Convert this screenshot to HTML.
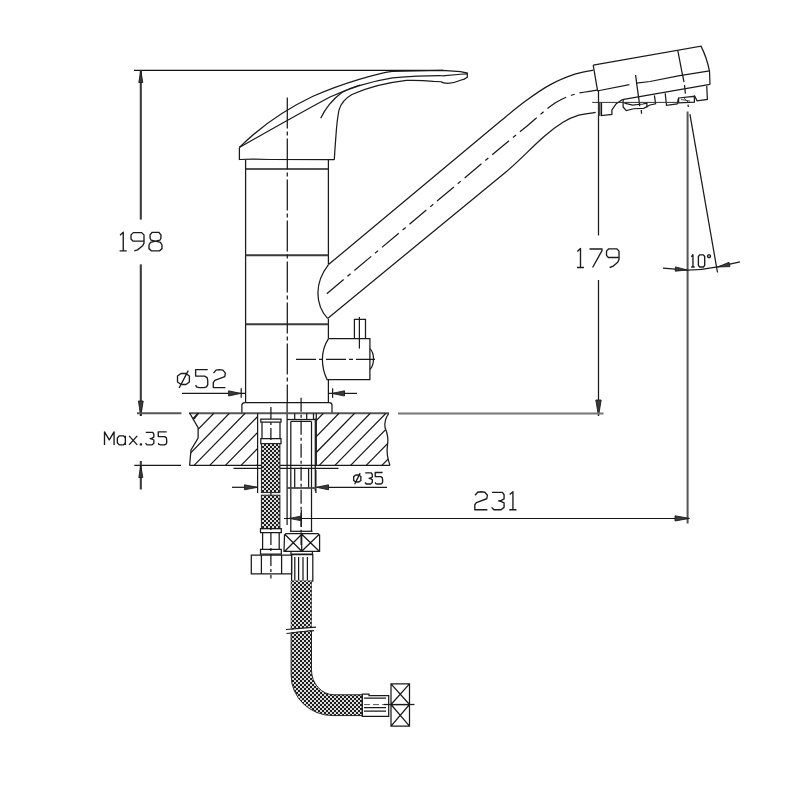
<!DOCTYPE html>
<html><head><meta charset="utf-8"><style>
html,body{margin:0;padding:0;background:#fff;}
svg{display:block;}
</style></head><body>
<svg width="800" height="794" viewBox="0 0 800 794">
<rect width="800" height="794" fill="#fff"/>
<line x1="134" y1="70.3" x2="443" y2="70.3" stroke="#111" stroke-width="1.3" />
<line x1="140.8" y1="70" x2="140.8" y2="219.6" stroke="#3a3a3a" stroke-width="2.1" fill="none" />
<line x1="140.8" y1="264.4" x2="140.8" y2="416" stroke="#3a3a3a" stroke-width="2.1" fill="none" />
<path d="M140.8,70.5 L138.8,82.5 L142.8,82.5 Z" fill="#3a3a3a" stroke="#1b1b1b" stroke-width="0.9" stroke-linejoin="round"/>
<path d="M140.8,416.0 L143.2,401.0 L138.4,401.0 Z" fill="#3a3a3a" stroke="#1b1b1b" stroke-width="0.9" stroke-linejoin="round"/>
<path transform="translate(119.60,232.30) scale(1.3000,1.0333)" d="M0.3,2.8 L2.8,0 L2.8,18 M0,18 L5.5,18" stroke="#1b1b1b" stroke-width="1.35" vector-effect="non-scaling-stroke" fill="none" stroke-linejoin="round" stroke-linecap="butt"/>
<path transform="translate(131.00,232.30) scale(1.3000,1.0333)" d="M10,8.5 L1.5,8.5 L0,6.5 L0,2.5 L1.8,0.3 L8.2,0.3 L10,2.5 L10,10.5 L9,13 L5,17 L2.5,18" stroke="#1b1b1b" stroke-width="1.35" vector-effect="non-scaling-stroke" fill="none" stroke-linejoin="round" stroke-linecap="butt"/>
<path transform="translate(149.00,232.30) scale(1.3000,1.0333)" d="M5,8.6 L1.5,7.5 L0.8,5.5 L0.8,2.5 L2.5,0 L7.5,0 L9.2,2.5 L9.2,5.5 L8.5,7.5 L5,8.6 L1.2,9.8 L0,12.3 L0,15.8 L2,18 L8,18 L10,15.8 L10,12.3 L8.8,9.8 Z" stroke="#1b1b1b" stroke-width="1.35" vector-effect="non-scaling-stroke" fill="none" stroke-linejoin="round" stroke-linecap="butt"/>
<path d="M239.4,147.4 C255,132 280,112 313,96.3 C345,82 380,73 392,71.3 L442.5,70.5 L460.5,71.6 L467.3,73.1 L467.3,77.25 L464.3,79.1 L460.5,80.25 Q455,82.8 448,83.3 Q443,83.2 441,81.75 L433.5,81.4 Q420,80 406.5,80.4 Q375,84 352,94.5 Q342,100 339,110 Q337,120 336,135 Q335,148 334.3,159.7" stroke="#1a1a1a" stroke-width="1.25" fill="none" />
<path d="M239.4,147.4 C265,133 300,113 330,97 Q360,83 392.5,77.8 Q420,75.6 442.5,75.75 L460.5,74.25 L467.3,73.9" stroke="#1a1a1a" stroke-width="1.25" fill="none" />
<path d="M320.7,118.2 Q328,103 341.8,92.5 Q350,88 360,85" stroke="#1a1a1a" stroke-width="1.25" fill="none" />
<path d="M239.4,147.4 L239.4,159.5 Q250,158.8 270,159.5 L334.3,159.7" stroke="#1a1a1a" stroke-width="1.25" fill="none" />
<path d="M245.6,159.7 L245.6,402 M328.4,159.7 L328.4,264.6 M328.4,319 L328.4,338.6 M328.4,379.5 L328.4,402" stroke="#1a1a1a" stroke-width="1.25" fill="none" />
<line x1="245.6" y1="169" x2="328.4" y2="169" stroke="#1b1b1b" stroke-width="1.6" />
<line x1="245.6" y1="255.3" x2="328.4" y2="255.3" stroke="#3a3a3a" stroke-width="2.1" fill="none" />
<line x1="245.6" y1="324.3" x2="328.4" y2="324.3" stroke="#3a3a3a" stroke-width="2.1" fill="none" />
<line x1="287.3" y1="97.5" x2="287.3" y2="402" stroke="#1a1a1a" stroke-width="1.25" fill="none" stroke-dasharray="31 3 4 3"/>
<line x1="287.1" y1="402" x2="287.1" y2="525" stroke="#1a1a1a" stroke-width="1.25" fill="none" />
<path d="M328.5,264.6 L500,121.6 C508.3,114.7 516.5,107.7 525.2,101.3 C533.3,95.3 541.5,89.4 550.4,84.6 C558.4,80.2 567.0,76.8 575.6,73.9 C581.3,72.0 587.3,71.3 593.2,70.1" stroke="#1a1a1a" stroke-width="1.25" fill="none" />
<path d="M327.6,318.4 L505,172.8 C518.7,161.5 530.7,148.2 544.1,136.5 C550.0,131.3 556.3,126.5 563.0,122.3 C567.7,119.4 572.8,117.0 578.1,115.4 C583.8,113.7 589.8,113.4 595.7,112.3" stroke="#1a1a1a" stroke-width="1.25" fill="none" />
<path d="M328.5,264.6 Q318,278 317.9,292.9 Q318,308 327.6,318.4" stroke="#1a1a1a" stroke-width="1.25" fill="none" />
<path d="M326.8,293.7 L500,148.2 C508.3,141.2 516.8,134.4 525.2,127.5 C535.3,119.3 544.6,110.0 555.4,102.8 C561.5,98.7 568.6,96.1 575.6,94.0 C582.5,91.9 589.9,91.5 597.0,90.2" stroke="#1a1a1a" stroke-width="1.25" fill="none" stroke-dasharray="22 5 4 5"/>
<path d="M593.2,65.1 L701,46.1 Q707,58 709.5,71.3 L710,84.4" stroke="#1a1a1a" stroke-width="1.25" fill="none" />
<path d="M593.2,65.1 L597.5,90.3" stroke="#1a1a1a" stroke-width="1.25" fill="none" />
<path d="M677.8,50.6 L681.8,71.3 L684,82" stroke="#1a1a1a" stroke-width="1.25" fill="none" />
<path d="M684.5,85 L685.4,93.6 M688,104.6 L688.3,107" stroke="#1a1a1a" stroke-width="1.25" fill="none" />
<path d="M597,91 L629.4,84.7" stroke="#1a1a1a" stroke-width="1.25" fill="none" />
<path d="M636.5,83.2 L650,81.5 L678.3,75.8 L709.5,70.8" stroke="#1a1a1a" stroke-width="1.25" fill="none" />
<path d="M597.5,90.3 L597.5,91" stroke="#1a1a1a" stroke-width="1.25" fill="none" />
<path d="M622.4,99.6 L710,84.4" stroke="#1a1a1a" stroke-width="1.25" fill="none" />
<path d="M601.5,102.5 L601.5,115.6 L611.9,114.4 L611.9,110 L616.25,103.75 L622.5,99.4" stroke="#1a1a1a" stroke-width="1.25" fill="none" />
<path d="M623.1,99.4 L623.1,106.9 L626.25,110.6 L633.75,108.75 L643.75,108.4 L647.5,106.25 L650,105 L655.6,103.75 L654.4,95.3" stroke="#1a1a1a" stroke-width="1.25" fill="none" />
<path d="M624.4,103.1 L632.5,105 L643,104 L646.9,103.1 L646.9,107.5" stroke="#1a1a1a" stroke-width="1.25" fill="none" />
<path d="M635.6,75 L636.6,83.1 L638.75,98.1 L639.7,106.25" stroke="#1a1a1a" stroke-width="1.25" fill="none" />
<path d="M641.25,110 L641.6,113.75" stroke="#1a1a1a" stroke-width="1.25" fill="none" />
<path d="M665.2,93.2 L666.5,105.25 L677.2,103.9 L678.6,98" stroke="#1a1a1a" stroke-width="1.25" fill="none" />
<path d="M678.6,98 L694.4,96.3 L694.4,102.2 L678.6,102.8 Z" stroke="#1a1a1a" stroke-width="1.25" fill="none" />
<path d="M694.4,95.5 L697.1,100.8 L707.4,99.4 L706.75,86" stroke="#1a1a1a" stroke-width="1.25" fill="none" />
<path d="M681,99.5 L690,101 M684,98 L688,102" stroke="#333" stroke-width="0.9" fill="none" />
<line x1="592.2" y1="102.4" x2="678.6" y2="102.4" stroke="#333" stroke-width="1" />
<line x1="598.5" y1="90.3" x2="598.5" y2="235.5" stroke="#1a1a1a" stroke-width="1.25" fill="none" />
<line x1="599.5" y1="102.5" x2="599.5" y2="116" stroke="#444" stroke-width="2.2" />
<line x1="598.5" y1="280" x2="598.5" y2="416" stroke="#1a1a1a" stroke-width="1.25" fill="none" />
<path d="M598.5,416.0 L601.2,400.0 L595.8,400.0 Z" fill="#3a3a3a" stroke="#1b1b1b" stroke-width="0.9" stroke-linejoin="round"/>
<line x1="398" y1="413.6" x2="603.5" y2="413.6" stroke="#777" stroke-width="2" />
<path transform="translate(577.00,248.50) scale(1.2500,1.0556)" d="M0.3,2.8 L2.8,0 L2.8,18 M0,18 L5.5,18" stroke="#1b1b1b" stroke-width="1.35" vector-effect="non-scaling-stroke" fill="none" stroke-linejoin="round" stroke-linecap="butt"/>
<path transform="translate(589.50,248.50) scale(1.2500,1.0556)" d="M0,0.5 L10,0.5 L10,2 L2.5,18" stroke="#1b1b1b" stroke-width="1.35" vector-effect="non-scaling-stroke" fill="none" stroke-linejoin="round" stroke-linecap="butt"/>
<path transform="translate(606.50,248.50) scale(1.2500,1.0556)" d="M10,8.5 L1.5,8.5 L0,6.5 L0,2.5 L1.8,0.3 L8.2,0.3 L10,2.5 L10,10.5 L9,13 L5,17 L2.5,18" stroke="#1b1b1b" stroke-width="1.35" vector-effect="non-scaling-stroke" fill="none" stroke-linejoin="round" stroke-linecap="butt"/>
<line x1="687.6" y1="111.5" x2="687.6" y2="523.4" stroke="#555" stroke-width="2" />
<line x1="689.9" y1="114.2" x2="717.5" y2="272.5" stroke="#1a1a1a" stroke-width="1.25" fill="none" />
<path d="M663,268.1 L687.5,270 Q703,270 717.5,266.9 L740,261.9" stroke="#1a1a1a" stroke-width="1.25" fill="none" />
<path d="M687.3,270.0 L675.5,266.9 L675.2,271.2 Z" fill="#3a3a3a" stroke="#1b1b1b" stroke-width="0.9" stroke-linejoin="round"/>
<path d="M717.8,267.0 L730.0,266.6 L729.0,262.3 Z" fill="#3a3a3a" stroke="#1b1b1b" stroke-width="0.9" stroke-linejoin="round"/>
<path transform="translate(691.20,254.80) scale(0.6300,0.6778)" d="M0.3,2.8 L2.8,0 L2.8,18 M0,18 L5.5,18" stroke="#1b1b1b" stroke-width="1.35" vector-effect="non-scaling-stroke" fill="none" stroke-linejoin="round" stroke-linecap="butt"/>
<path transform="translate(698.40,254.80) scale(0.6300,0.6778)" d="M2,0 L8,0 L10,2.5 L10,15.5 L8,18 L2,18 L0,15.5 L0,2.5 Z" stroke="#1b1b1b" stroke-width="1.35" vector-effect="non-scaling-stroke" fill="none" stroke-linejoin="round" stroke-linecap="butt"/>
<path transform="translate(707.60,254.80) scale(0.6300,0.6778)" d="M1.2,0 L3.3,0 L4.5,1.2 L4.5,2.8 L3.3,4 L1.2,4 L0,2.8 L0,1.2 Z" stroke="#1b1b1b" stroke-width="1.35" vector-effect="non-scaling-stroke" fill="none" stroke-linejoin="round" stroke-linecap="butt"/>
<line x1="284" y1="518.5" x2="687.5" y2="518.5" stroke="#111" stroke-width="1.2" />
<path d="M289.4,518.4 L300.4,520.6 L300.4,516.2 Z" fill="#3a3a3a" stroke="#1b1b1b" stroke-width="0.9" stroke-linejoin="round"/>
<path d="M689.5,518.4 L675.0,515.8 L675.0,521.0 Z" fill="#3a3a3a" stroke="#1b1b1b" stroke-width="0.9" stroke-linejoin="round"/>
<line x1="301.3" y1="510" x2="301.3" y2="527" stroke="#1a1a1a" stroke-width="1.25" fill="none" />
<path transform="translate(474.40,491.75) scale(1.3000,1.0000)" d="M0.5,3.5 L2.5,0.5 L5,0 L8,0.5 L10,3.5 L9.5,7 L1.5,10.8 L0.3,13 L0.3,18 L10,18" stroke="#1b1b1b" stroke-width="1.35" vector-effect="non-scaling-stroke" fill="none" stroke-linejoin="round" stroke-linecap="butt"/>
<path transform="translate(491.60,491.75) scale(1.3000,1.0000)" d="M0.3,0.6 L8.3,0.6 L9.6,3 L9.6,7.2 L7.5,8.6 L5.4,9.2 L7.5,9.8 L9.6,11.2 L9.6,15.6 L7.3,18 L1.8,18 L0,15.6" stroke="#1b1b1b" stroke-width="1.35" vector-effect="non-scaling-stroke" fill="none" stroke-linejoin="round" stroke-linecap="butt"/>
<path transform="translate(509.30,491.75) scale(1.3000,1.0000)" d="M0.3,2.8 L2.8,0 L2.8,18 M0,18 L5.5,18" stroke="#1b1b1b" stroke-width="1.35" vector-effect="non-scaling-stroke" fill="none" stroke-linejoin="round" stroke-linecap="butt"/>
<path d="M328.5,338.6 L369.9,338.6 L369.9,379.5 L327,379.5 Q322.4,370 322.4,359.3 Q322.4,348 328.5,338.6" stroke="#1a1a1a" stroke-width="1.25" fill="none" />
<path d="M369.9,348.6 Q373.5,352 373.5,359 Q373.5,366 369.9,369.4" stroke="#1a1a1a" stroke-width="1.25" fill="none" />
<line x1="296" y1="359.3" x2="375" y2="359.3" stroke="#1a1a1a" stroke-width="1.25" fill="none" stroke-dasharray="20 3 4 3"/>
<path d="M354.4,338.6 L354.4,319.4 L365.5,319.4 L365.5,338.6" stroke="#1a1a1a" stroke-width="1.25" fill="none" />
<line x1="359.4" y1="317" x2="359.4" y2="348.6" stroke="#1a1a1a" stroke-width="1.25" fill="none" />
<line x1="182" y1="393.4" x2="245.6" y2="393.4" stroke="#1a1a1a" stroke-width="1.25" fill="none" />
<line x1="328.4" y1="393.4" x2="357" y2="393.4" stroke="#1a1a1a" stroke-width="1.25" fill="none" />
<path d="M240.6,393.4 L228.6,390.8 L228.6,396.0 Z" fill="#3a3a3a" stroke="#1b1b1b" stroke-width="0.9" stroke-linejoin="round"/>
<path d="M332.0,393.4 L344.5,396.0 L344.5,390.8 Z" fill="#3a3a3a" stroke="#1b1b1b" stroke-width="0.9" stroke-linejoin="round"/>
<line x1="241.2" y1="388.3" x2="241.2" y2="397.8" stroke="#1a1a1a" stroke-width="1.25" fill="none" />
<line x1="332.6" y1="388.3" x2="332.6" y2="397.8" stroke="#1a1a1a" stroke-width="1.25" fill="none" />
<path transform="translate(177.25,369.60) scale(1.2500,1.0000)" d="M3,3.9 L7,3.9 L9.7,6.4 L9.7,12.4 L7,14.9 L3,14.9 L0.2,12.4 L0.2,6.4 Z M1.5,18.4 L8.8,1" stroke="#1b1b1b" stroke-width="1.35" vector-effect="non-scaling-stroke" fill="none" stroke-linejoin="round" stroke-linecap="butt"/>
<path transform="translate(195.25,369.60) scale(1.2500,1.0000)" d="M10,0 L0.3,0 L0.3,6.5 L7.5,6.5 L9.5,8 L10,11 L10,15 L9,17.3 L7,18 L3,18 L1,17.3 L0.3,15.5" stroke="#1b1b1b" stroke-width="1.35" vector-effect="non-scaling-stroke" fill="none" stroke-linejoin="round" stroke-linecap="butt"/>
<path transform="translate(212.90,369.60) scale(1.2500,1.0000)" d="M0.5,3.5 L2.5,0.5 L5,0 L8,0.5 L10,3.5 L9.5,7 L1.5,10.8 L0.3,13 L0.3,18 L10,18" stroke="#1b1b1b" stroke-width="1.35" vector-effect="non-scaling-stroke" fill="none" stroke-linejoin="round" stroke-linecap="butt"/>
<path d="M241.9,413.3 L241.9,405 Q242,402.6 245,402.6 L329,402.6 Q332,402.6 332,405 L332,413.3" stroke="#1a1a1a" stroke-width="1.25" fill="none" />
<line x1="137" y1="413.3" x2="181.4" y2="413.3" stroke="#555" stroke-width="2" />
<line x1="189" y1="413.3" x2="389" y2="413.3" stroke="#555" stroke-width="2" />
<line x1="189.6" y1="465.4" x2="390" y2="465.4" stroke="#1a1a1a" stroke-width="1.25" fill="none" />
<path d="M189.6,413 L198.1,427.7 L198.1,438 L191,450 L189.6,465.4" stroke="#1a1a1a" stroke-width="1.25" fill="none" />
<path d="M198.6,413 L194,419" stroke="#1a1a1a" stroke-width="1.25" fill="none" />
<line x1="257.6" y1="413.3" x2="257.6" y2="493" stroke="#1a1a1a" stroke-width="1.25" fill="none" />
<line x1="316.3" y1="413.3" x2="316.3" y2="465.4" stroke="#1a1a1a" stroke-width="1.25" fill="none" />
<path d="M388.75,413.5 Q384,420 385,427.5 Q389,437 387.5,445 Q386,455 390,465.4" stroke="#1a1a1a" stroke-width="1.25" fill="none" />
<clipPath id="hl"><path d="M189.6,413 L198.1,427.7 L198.1,438 L191,450 L189.6,465.4 L257.6,465.4 L257.6,413 Z"/></clipPath>
<clipPath id="hr"><path d="M316.3,413 L388.75,413 Q384,420 385,427.5 Q389,437 387.5,445 Q386,455 390,465.4 L316.3,465.4 Z"/></clipPath>
<g clip-path="url(#hl)"><path d="M131.5,465.4 L182.5,413.3 M147.1,465.4 L198.1,413.3 M162.8,465.4 L213.8,413.3 M178.4,465.4 L229.4,413.3 M194.1,465.4 L245.1,413.3 M209.8,465.4 L260.8,413.3 M225.4,465.4 L276.4,413.3 M241.1,465.4 L292.1,413.3 M256.7,465.4 L307.7,413.3 M272.4,465.4 L323.4,413.3 M288.0,465.4 L339.0,413.3 M303.6,465.4 L354.6,413.3 M319.3,465.4 L370.3,413.3 M334.9,465.4 L385.9,413.3 M350.6,465.4 L401.6,413.3 M366.2,465.4 L417.2,413.3 M381.9,465.4 L432.9,413.3 M397.6,465.4 L448.6,413.3" stroke="#1a1a1a" stroke-width="1.25" fill="none"/></g>
<g clip-path="url(#hr)"><path d="M131.5,465.4 L182.5,413.3 M147.1,465.4 L198.1,413.3 M162.8,465.4 L213.8,413.3 M178.4,465.4 L229.4,413.3 M194.1,465.4 L245.1,413.3 M209.8,465.4 L260.8,413.3 M225.4,465.4 L276.4,413.3 M241.1,465.4 L292.1,413.3 M256.7,465.4 L307.7,413.3 M272.4,465.4 L323.4,413.3 M288.0,465.4 L339.0,413.3 M303.6,465.4 L354.6,413.3 M319.3,465.4 L370.3,413.3 M334.9,465.4 L385.9,413.3 M350.6,465.4 L401.6,413.3 M366.2,465.4 L417.2,413.3 M381.9,465.4 L432.9,413.3 M397.6,465.4 L448.6,413.3" stroke="#1a1a1a" stroke-width="1.25" fill="none"/></g>
<line x1="233.5" y1="468.3" x2="338.5" y2="468.3" stroke="#1a1a1a" stroke-width="1.25" fill="none" />
<line x1="134.3" y1="465.3" x2="181" y2="465.3" stroke="#1a1a1a" stroke-width="1.25" fill="none" />
<line x1="140.8" y1="461" x2="140.8" y2="489.5" stroke="#3a3a3a" stroke-width="2.1" fill="none" />
<path d="M140.8,465.6 L138.8,477.6 L142.8,477.6 Z" fill="#3a3a3a" stroke="#1b1b1b" stroke-width="0.9" stroke-linejoin="round"/>
<path transform="translate(104.50,431.90) scale(0.8700,0.7222)" d="M0,18 L0,0 L5.5,11 L11,0 L11,18" stroke="#1b1b1b" stroke-width="1.35" vector-effect="non-scaling-stroke" fill="none" stroke-linejoin="round" stroke-linecap="butt"/>
<path transform="translate(117.10,431.90) scale(0.8700,0.7222)" d="M9.5,5.5 L9.5,18 M9.5,8.5 L7.5,5.5 L2.5,5.5 L0.3,8.5 L0.3,15 L2.5,18 L7.5,18 L9.5,15" stroke="#1b1b1b" stroke-width="1.35" vector-effect="non-scaling-stroke" fill="none" stroke-linejoin="round" stroke-linecap="butt"/>
<path transform="translate(128.80,431.90) scale(0.8700,0.7222)" d="M0.3,5.5 L9.7,18 M9.7,5.5 L0.3,18" stroke="#1b1b1b" stroke-width="1.35" vector-effect="non-scaling-stroke" fill="none" stroke-linejoin="round" stroke-linecap="butt"/>
<path transform="translate(139.50,431.90) scale(0.8700,0.7222)" d="M1,16.8 L2.2,16.8 L2.2,18 L1,18 Z" stroke="#1b1b1b" stroke-width="1.35" vector-effect="non-scaling-stroke" fill="none" stroke-linejoin="round" stroke-linecap="butt"/>
<path transform="translate(145.50,431.90) scale(0.8700,0.7222)" d="M0.3,0.6 L8.3,0.6 L9.6,3 L9.6,7.2 L7.5,8.6 L5.4,9.2 L7.5,9.8 L9.6,11.2 L9.6,15.6 L7.3,18 L1.8,18 L0,15.6" stroke="#1b1b1b" stroke-width="1.35" vector-effect="non-scaling-stroke" fill="none" stroke-linejoin="round" stroke-linecap="butt"/>
<path transform="translate(158.00,431.90) scale(0.8700,0.7222)" d="M10,0 L0.3,0 L0.3,6.5 L7.5,6.5 L9.5,8 L10,11 L10,15 L9,17.3 L7,18 L3,18 L1,17.3 L0.3,15.5" stroke="#1b1b1b" stroke-width="1.35" vector-effect="non-scaling-stroke" fill="none" stroke-linejoin="round" stroke-linecap="butt"/>
<line x1="232" y1="487.3" x2="257.5" y2="487.3" stroke="#1a1a1a" stroke-width="1.25" fill="none" />
<path d="M257.5,487.3 L244.5,484.8 L244.5,489.8 Z" fill="#3a3a3a" stroke="#1b1b1b" stroke-width="0.9" stroke-linejoin="round"/>
<line x1="315.9" y1="470" x2="315.9" y2="493" stroke="#1a1a1a" stroke-width="1.25" fill="none" />
<line x1="316.5" y1="487.3" x2="387" y2="487.3" stroke="#1a1a1a" stroke-width="1.25" fill="none" />
<path d="M316.5,487.3 L328.5,489.8 L328.5,484.8 Z" fill="#3a3a3a" stroke="#1b1b1b" stroke-width="0.9" stroke-linejoin="round"/>
<path transform="translate(353.50,472.50) scale(0.7600,0.6389)" d="M3,3.9 L7,3.9 L9.7,6.4 L9.7,12.4 L7,14.9 L3,14.9 L0.2,12.4 L0.2,6.4 Z M1.5,18.4 L8.8,1" stroke="#1b1b1b" stroke-width="1.35" vector-effect="non-scaling-stroke" fill="none" stroke-linejoin="round" stroke-linecap="butt"/>
<path transform="translate(365.00,472.50) scale(0.7600,0.6389)" d="M0.3,0.6 L8.3,0.6 L9.6,3 L9.6,7.2 L7.5,8.6 L5.4,9.2 L7.5,9.8 L9.6,11.2 L9.6,15.6 L7.3,18 L1.8,18 L0,15.6" stroke="#1b1b1b" stroke-width="1.35" vector-effect="non-scaling-stroke" fill="none" stroke-linejoin="round" stroke-linecap="butt"/>
<path transform="translate(375.00,472.50) scale(0.7600,0.6389)" d="M10,0 L0.3,0 L0.3,6.5 L7.5,6.5 L9.5,8 L10,11 L10,15 L9,17.3 L7,18 L3,18 L1,17.3 L0.3,15.5" stroke="#1b1b1b" stroke-width="1.35" vector-effect="non-scaling-stroke" fill="none" stroke-linejoin="round" stroke-linecap="butt"/>
<path d="M290.8,421.4 L290.8,531 M311.5,421.4 L311.5,531" stroke="#1a1a1a" stroke-width="1.25" fill="none" />
<line x1="287" y1="419.5" x2="315.3" y2="419.5" stroke="#1a1a1a" stroke-width="1.25" fill="none" />
<path d="M294.7,413.3 L294.7,419.5 M306.7,413.3 L306.7,419.5 M313.5,413.3 L313.5,419.5" stroke="#1a1a1a" stroke-width="1.25" fill="none" />
<line x1="290.8" y1="421.4" x2="311.5" y2="421.4" stroke="#1a1a1a" stroke-width="1.25" fill="none" />
<line x1="315.3" y1="418.6" x2="315.3" y2="491.2" stroke="#1a1a1a" stroke-width="1.25" fill="none" />
<line x1="301.1" y1="397.8" x2="301.1" y2="545" stroke="#1a1a1a" stroke-width="1.25" fill="none" stroke-dasharray="14 3 3 3"/>
<path d="M294.7,468.3 L294.7,488 M308.6,468.3 L308.6,488" stroke="#1a1a1a" stroke-width="1.25" fill="none" />
<line x1="287" y1="488" x2="316" y2="488" stroke="#444" stroke-width="1.8" />
<path d="M284.5,535 L286,533.6 L318,533.6 L319.6,535 L319.6,551.3 L284,551.3 Z M301.7,533.6 L301.7,551.3 M285,534.5 L301.5,551 M301.5,534.5 L285,551 M302,534.5 L319,551 M319,534.5 L302,551" stroke="#1a1a1a" stroke-width="1.25" fill="none" />
<line x1="290" y1="531.3" x2="312.5" y2="531.3" stroke="#1a1a1a" stroke-width="1.25" fill="none" />
<path d="M291,551.3 L291,554.2 L312.4,554.2 L312.4,551.3" stroke="#1a1a1a" stroke-width="1.25" fill="none" />
<line x1="270.9" y1="407" x2="270.9" y2="578.4" stroke="#1a1a1a" stroke-width="1.25" fill="none" stroke-dasharray="12 3 3 3"/>
<path d="M260.8,419 L281,419 L281,422.2 L260.8,422.2 Z" stroke="#1a1a1a" stroke-width="1.25" fill="none" />
<path d="M262,422.2 L262,438.5 M280,422.2 L280,438.5" stroke="#1a1a1a" stroke-width="1.25" fill="none" />
<path d="M260.8,438.5 L281,438.5 L281,443.6 L260.8,443.6 Z" stroke="#1a1a1a" stroke-width="1.25" fill="none" />
<pattern id="br" width="4" height="4" patternUnits="userSpaceOnUse"><rect width="4" height="4" fill="#dcdcdc"/><rect width="2" height="2" fill="#1e1e1e"/><rect x="2" y="2" width="2" height="2" fill="#1e1e1e"/></pattern>
<rect x="261.4" y="443.6" width="18.5" height="49" fill="url(#br)" stroke="#222" stroke-width="1"/>
<rect x="261.4" y="495.2" width="18.5" height="33.4" fill="url(#br)" stroke="#222" stroke-width="1"/>
<path d="M260.5,528.6 L281.3,528.6 L281.3,532.7 L260.5,532.7 Z M262.6,532.7 L262.6,549.4 M279.2,532.7 L279.2,549.4 M260.5,549.4 L281.3,549.4 L281.3,554.2 L260.5,554.2 Z" stroke="#1a1a1a" stroke-width="1.25" fill="none" />
<path d="M251.3,555.1 L291.6,555.1 L291.6,573.8 L251.3,573.8 Z M261.4,555.1 L261.4,573.8 M281.6,555.1 L281.6,573.8" stroke="#1a1a1a" stroke-width="1.25" fill="none" />
<path d="M291.6,554.5 L312.8,554.5 L312.8,581 L291.6,581 Z M294.8,557 L294.8,580 M298.6,557 L298.6,580 M303,557 L303,580 M307.4,557 L307.4,580" stroke="#1a1a1a" stroke-width="1.25" fill="none" />
<path d="M291.25,581 L291.25,630 M311.3,581 L311.3,628" stroke="#222" stroke-width="1"/>
<path d="M291.25,581 L311.3,581 L311.3,627.6 L291.25,629.6 Z" fill="url(#br)"/>
<line x1="286" y1="629.5" x2="316" y2="627.2" stroke="#1a1a1a" stroke-width="1.25" fill="none" />
<line x1="286.5" y1="633.5" x2="314" y2="630.6" stroke="#1a1a1a" stroke-width="1.25" fill="none" />
<path d="M291.1,632.8 L291.1,675.3 A41.8,40.3 0 0 0 332.9,715.6 L362.3,715.6 L362.3,694.8 L334.2,694.8 A22.7,24.6 0 0 1 311.5,670.2 L311.5,630.7 Z" fill="url(#br)" stroke="#222" stroke-width="1"/>
<path d="M362.3,694 L369,694 L369,695.5 L388.7,695.5 L388.7,716.3 L362.3,716.3 Z M364,698.1 L386,698.1 M364,707.6 L386,707.6 M364,711 L386,711" stroke="#1a1a1a" stroke-width="1.25" fill="none" />
<line x1="364" y1="704.6" x2="386" y2="704.6" stroke="#555" stroke-width="1" stroke-dasharray="6 3"/>
<path d="M391,683.8 L409.5,683.8 L409.5,726.1 L391,726.1 Z M391,704.5 L409.5,704.5 M391,683.8 L409.5,704.5 M409.5,683.8 L391,704.5 M391,704.5 L409.5,726.1 M409.5,704.5 L391,726.1" stroke="#1a1a1a" stroke-width="1.25" fill="none" />
<line x1="384" y1="704.5" x2="414.4" y2="704.5" stroke="#1a1a1a" stroke-width="1.25" fill="none" />
</svg></body></html>
